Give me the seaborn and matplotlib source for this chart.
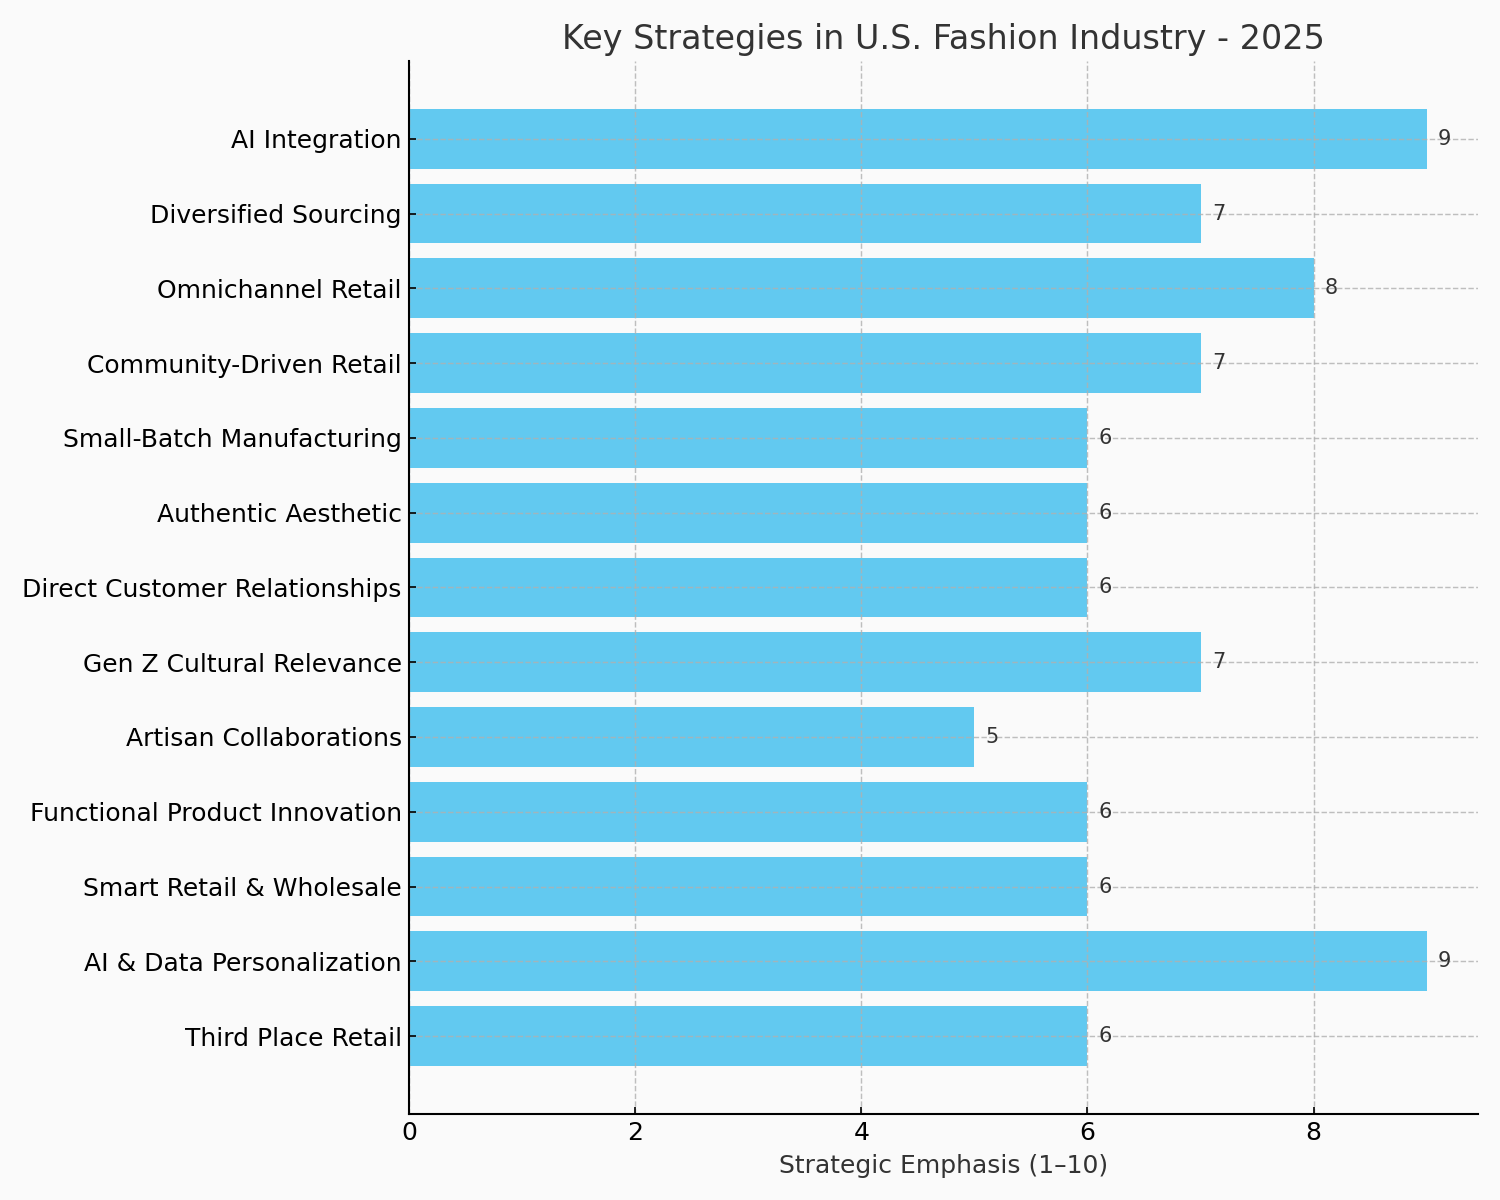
import matplotlib
matplotlib.use("Agg")
import matplotlib.pyplot as plt
import seaborn as sns
import pandas as pd

strategies = [
    "AI Integration",
    "Diversified Sourcing",
    "Omnichannel Retail",
    "Community-Driven Retail",
    "Small-Batch Manufacturing",
    "Authentic Aesthetic",
    "Direct Customer Relationships",
    "Gen Z Cultural Relevance",
    "Artisan Collaborations",
    "Functional Product Innovation",
    "Smart Retail & Wholesale",
    "AI & Data Personalization",
    "Third Place Retail",
]
scores = [9, 7, 8, 7, 6, 6, 6, 7, 5, 6, 6, 9, 6]

df = pd.DataFrame({"Strategy": strategies, "Score": scores})

plt.rcParams["font.family"] = ["DejaVu Sans"]
fig, ax = plt.subplots(figsize=(10, 8), dpi=150)
fig.patch.set_facecolor("#fafafa")
ax.set_facecolor("#fafafa")

sns.barplot(data=df, x="Score", y="Strategy", orient="h", color="#62c9f0",
            saturation=1, width=0.8, ax=ax)

for i, v in enumerate(scores):
    ax.text(v + 0.1, i, str(v), va="center", ha="left", fontsize=10, color="#333333")

n = len(strategies)
ax.set_ylim(n - 1 + 0.4 + 0.64, -0.4 - 0.64)
ax.set_xlim(0, max(scores) * 1.05)

ax.set_axisbelow(False)
ax.grid(True, linestyle="--", color="#b0b0b0", alpha=0.8, linewidth=0.7)
ax.spines["top"].set_visible(False)
ax.spines["right"].set_visible(False)
for side in ("left", "bottom"):
    ax.spines[side].set_linewidth(1.0)
    ax.spines[side].set_zorder(5)

ax.set_title("Key Strategies in U.S. Fashion Industry - 2025", fontsize=16, color="#333333")
ax.set_xlabel("Strategic Emphasis (1–10)", fontsize=12, color="#333333")
ax.set_ylabel("")
ax.tick_params(axis="both", labelsize=12, direction="in")

plt.tight_layout()
plt.savefig("out.png", dpi=150, facecolor=fig.get_facecolor())
